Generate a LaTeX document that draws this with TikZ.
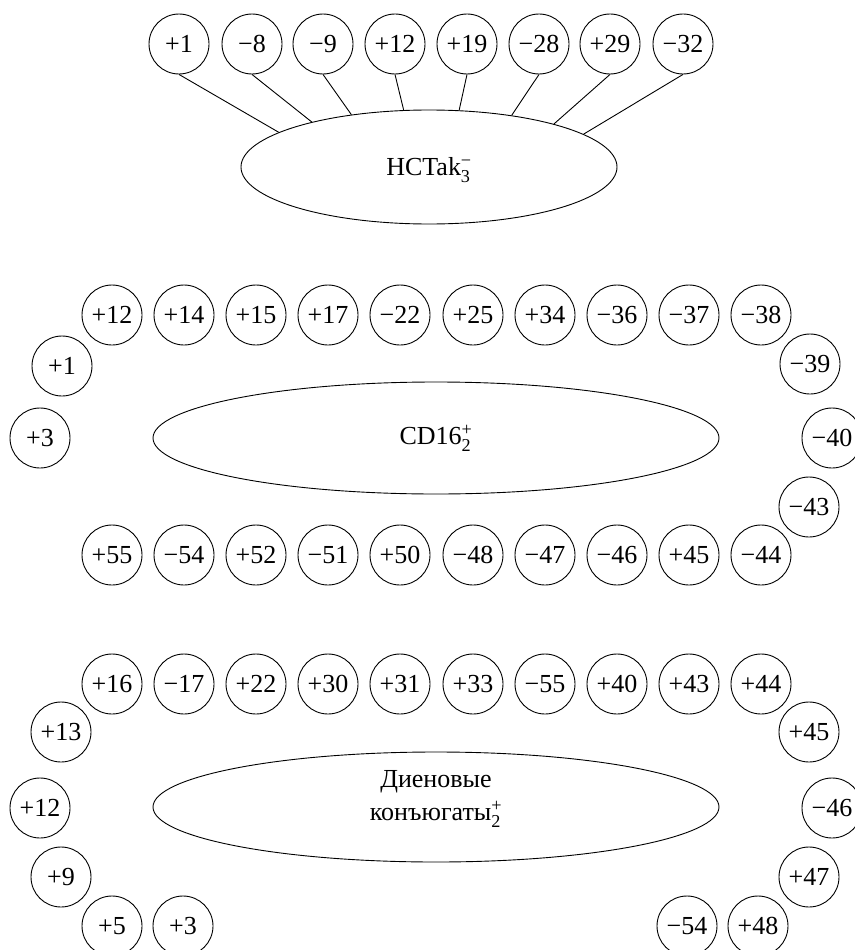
\documentclass[tikz,border=0pt]{standalone}
\usepackage{fontspec}
\usepackage{amsmath}
\setmainfont{Liberation Serif}
\usetikzlibrary{shapes.geometric}
\newcommand\chrg[2]{$^{\text{#1}}_{\text{#2}}$}
\tikzset{
  num/.style={draw,circle,line width=0.9pt,minimum size=60pt,inner sep=0pt,font=\fontsize{26}{30}\selectfont},
  group/.style={draw,ellipse,line width=0.9pt,inner sep=0pt,font=\fontsize{26}{33}\selectfont},
  link/.style={line width=0.9pt}
}

\begin{document}
\begin{tikzpicture}[x=1pt,y=-1pt]
  \useasboundingbox (0,0) rectangle (854,950);
  % HCTak
  \node[group,minimum width=376pt,minimum height=114pt] (hct) at (429,167) {\raisebox{-3pt}[\height][\depth]{HCTak\chrg{−}{3}}};
  \node[num] (h1) at (179,44) {+1};
  \node[num] (h2) at (252,44) {−8};
  \node[num] (h3) at (323,44) {−9};
  \node[num] (h4) at (395,44) {+12};
  \node[num] (h5) at (467,44) {+19};
  \node[num] (h6) at (539,44) {−28};
  \node[num] (h7) at (610,44) {+29};
  \node[num] (h8) at (683,44) {−32};
  \draw[link] (h1.south) -- (hct.167);
  \draw[link] (h2.south) -- (hct.159);
  \draw[link] (h3.south) -- (hct.146);
  \draw[link] (h4.south) -- (hct.114);
  \draw[link] (h5.south) -- (hct.62);
  \draw[link] (h6.south) -- (hct.32);
  \draw[link] (h7.south) -- (hct.19);
  \draw[link] (h8.south) -- (hct.12);
  % CD16
  \node[group,minimum width=566pt,minimum height=112pt] (cd) at (436,438) {CD16\chrg{+}{2}};
  \node[num] (ca1) at (112,315) {+12};
  \node[num] (ca2) at (184,315) {+14};
  \node[num] (ca3) at (256,315) {+15};
  \node[num] (ca4) at (328,315) {+17};
  \node[num] (ca5) at (400,315) {−22};
  \node[num] (ca6) at (473,315) {+25};
  \node[num] (ca7) at (545,315) {+34};
  \node[num] (ca8) at (617,315) {−36};
  \node[num] (ca9) at (689,315) {−37};
  \node[num] (ca10) at (761,315) {−38};
  \node[num] (cl1) at (62,366) {+1};
  \node[num] (cl2) at (40,438) {+3};
  \node[num] (cr1) at (810,364) {−39};
  \node[num] (cr2) at (832,438) {−40};
  \node[num] (cr3) at (809,507) {−43};
  \node[num] (cb1) at (112,555) {+55};
  \node[num] (cb2) at (184,555) {−54};
  \node[num] (cb3) at (256,555) {+52};
  \node[num] (cb4) at (328,555) {−51};
  \node[num] (cb5) at (400,555) {+50};
  \node[num] (cb6) at (473,555) {−48};
  \node[num] (cb7) at (545,555) {−47};
  \node[num] (cb8) at (617,555) {−46};
  \node[num] (cb9) at (689,555) {+45};
  \node[num] (cb10) at (761,555) {−44};
  % dienes
  \node[group,minimum width=566pt,minimum height=110pt] (dk) at (436,807)
    {\raisebox{10pt}[\height][\depth]{\begin{tabular}{@{}c@{}}Диеновые\\конъюгаты\chrg{+}{2}\end{tabular}}};
  \node[num] (da1) at (112,684) {+16};
  \node[num] (da2) at (184,684) {−17};
  \node[num] (da3) at (256,684) {+22};
  \node[num] (da4) at (328,684) {+30};
  \node[num] (da5) at (400,684) {+31};
  \node[num] (da6) at (473,684) {+33};
  \node[num] (da7) at (545,684) {−55};
  \node[num] (da8) at (617,684) {+40};
  \node[num] (da9) at (689,684) {+43};
  \node[num] (da10) at (761,684) {+44};
  \node[num] (dl1) at (61,732) {+13};
  \node[num] (dl2) at (40,808) {+12};
  \node[num] (dl3) at (61,877) {+9};
  \node[num] (dl4) at (112,926) {+5};
  \node[num] (dl5) at (183,926) {+3};
  \node[num] (dr1) at (809,732) {+45};
  \node[num] (dr2) at (832,808) {−46};
  \node[num] (dr3) at (809,877) {+47};
  \node[num] (dr4) at (687,926) {−54};
  \node[num] (dr5) at (758,926) {+48};
\end{tikzpicture}
\end{document}
